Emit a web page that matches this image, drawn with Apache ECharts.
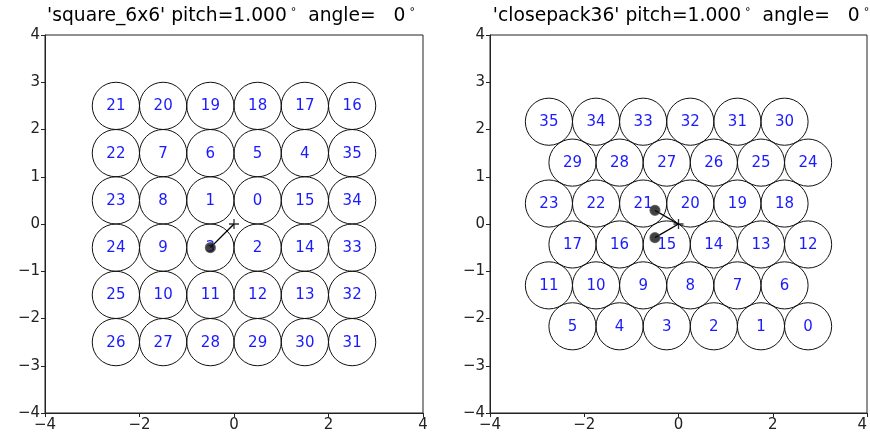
<!DOCTYPE html>
<html><head><meta charset="utf-8">
<script src="https://cdn.jsdelivr.net/npm/echarts@6/dist/echarts.min.js"></script>
<style>html,body{margin:0;padding:0;background:#fff}#c{width:870px;height:445px}</style>
</head><body><div id="c"></div>
<script>
// ---- data ----
const squareX = [-2.5, -1.5, -0.5, 0.5, 1.5, 2.5];
const squareY = [2.5, 1.5, 0.5, -0.5, -1.5, -2.5];
const squareLabels = [
  [21, 20, 19, 18, 17, 16],
  [22, 7, 6, 5, 4, 35],
  [23, 8, 1, 0, 15, 34],
  [24, 9, 3, 2, 14, 33],
  [25, 10, 11, 12, 13, 32],
  [26, 27, 28, 29, 30, 31]
];
const closeY = [2.165, 1.299, 0.433, -0.433, -1.299, -2.165];
const closeXEven = [-2.75, -1.75, -0.75, 0.25, 1.25, 2.25];
const closeXOdd = [-2.25, -1.25, -0.25, 0.75, 1.75, 2.75];
const closeLabels = [
  [35, 34, 33, 32, 31, 30],
  [29, 28, 27, 26, 25, 24],
  [23, 22, 21, 20, 19, 18],
  [17, 16, 15, 14, 13, 12],
  [11, 10, 9, 8, 7, 6],
  [5, 4, 3, 2, 1, 0]
];
const squareDots = [[-0.5, -0.5]];
const closeDots = [[-0.5, 0.289], [-0.5, -0.289]];
const origin = [0, 0];
const radius = 0.5;
const titles = ["'square_6x6' pitch=1.000", "'closepack36' pitch=1.000"];

// ---- build ----
const sqPts = [];
squareY.forEach((y, r) => squareX.forEach((x, c) => sqPts.push([x, y, squareLabels[r][c]])));
const cpPts = [];
closeY.forEach((y, r) => (r % 2 === 0 ? closeXEven : closeXOdd).forEach((x, c) => cpPts.push([x, y, closeLabels[r][c]])));

const FONT = 'DejaVu Sans';
const minus = v => String(v).replace('-', '\u2212');

function circles(idx, pts) {
  return {
    type: 'custom', xAxisIndex: idx, yAxisIndex: idx, z: 2,
    data: pts,
    renderItem: (params, api) => {
      const c = api.coord([api.value(0), api.value(1)]);
      const s = api.size([radius, radius]);
      return {
        type: 'group', children: [
          { type: 'circle', shape: { cx: c[0], cy: c[1], r: s[0] }, style: { fill: 'none', stroke: '#111', lineWidth: 1 } },
          { type: 'text', style: { text: String(api.value(2)), x: c[0], y: c[1] + 0.5, align: 'center', verticalAlign: 'middle', fill: '#1a1aff', font: '15px "' + FONT + '"' } }
        ]
      };
    }
  };
}
function dotSeries(idx, dots) {
  const out = [];
  dots.forEach(d => {
    out.push({ type: 'line', xAxisIndex: idx, yAxisIndex: idx, z: 5, data: [d, origin], symbol: 'none', lineStyle: { color: '#000', width: 1.4 }, silent: true });
  });
  out.push({ type: 'scatter', xAxisIndex: idx, yAxisIndex: idx, z: 6, data: dots, symbol: 'circle', symbolSize: 10, itemStyle: { color: '#111', borderColor: '#555', borderWidth: 1.2 } });
  out.push({ type: 'scatter', xAxisIndex: idx, yAxisIndex: idx, z: 6, data: [origin], symbol: 'path://M0,5L10,5M5,0L5,10', symbolSize: 10, itemStyle: { color: 'none', borderColor: '#000', borderWidth: 1.3 } });
  return out;
}
function axisCommon(interval) {
  return { type: 'value', min: -4, max: 4, interval: interval, splitLine: { show: false },
    axisLine: { onZero: false, lineStyle: { color: '#222', width: 1 } },
    axisTick: { inside: false, length: 4, lineStyle: { color: '#222' } },
    axisLabel: { color: '#222', fontFamily: FONT, fontSize: 15, margin: 5, formatter: minus, showMinLabel: true, showMaxLabel: true, hideOverlap: false } };
}
function xAxis(idx) {
  const a = Object.assign(axisCommon(2), { gridIndex: idx });
  if (idx === 1) a.axisLabel.alignMaxLabel = 'right';
  return a;
}
function yAxis(idx) { return Object.assign(axisCommon(1), { gridIndex: idx }); }
function title(i, cx) {
  return { text: '{t|' + titles[i] + '}{d|°}{t|  angle=   0}{d|°}', left: cx, top: 2, textAlign: 'center',
    textStyle: { fontWeight: 'normal', rich: {
      t: { fontFamily: FONT, fontSize: 18.7, fontWeight: 'normal', color: '#000' },
      d: { fontFamily: FONT, fontSize: 11, fontWeight: 'normal', color: '#000', verticalAlign: 'top', padding: [0, 0, 8, 4] } } } };
}
const chart = echarts.init(document.getElementById('c'), null, { renderer: 'canvas' });
chart.setOption({
  animation: false,
  backgroundColor: '#fff',
  title: [title(0, 226), title(1, 676)],
  grid: [
    { left: 45, top: 35, width: 378, height: 378, show: true, borderColor: '#222', borderWidth: 1 },
    { left: 490, top: 35, width: 378, height: 378, show: true, borderColor: '#222', borderWidth: 1 }
  ],
  xAxis: [xAxis(0), xAxis(1)],
  yAxis: [yAxis(0), yAxis(1)],
  series: [circles(0, sqPts), circles(1, cpPts)].concat(dotSeries(0, squareDots), dotSeries(1, closeDots))
});
</script></body></html>
